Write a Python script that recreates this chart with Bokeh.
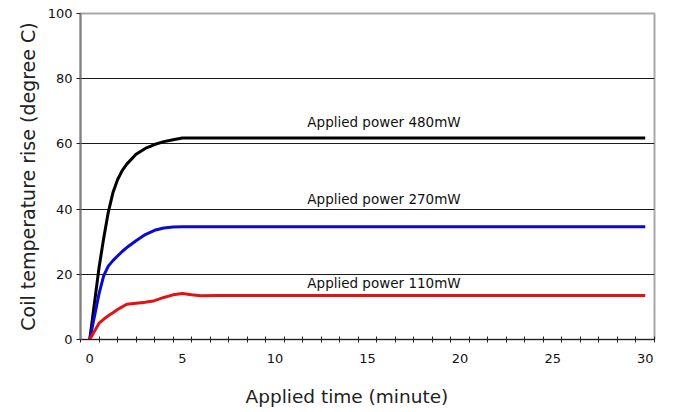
from bokeh.plotting import figure
from bokeh.models import FixedTicker, Range1d
from bokeh.embed import file_html
from bokeh.resources import INLINE
from bokeh.core.properties import value

# ---- data ----
time_min = [0, 0.5, 0.75, 1, 1.25, 1.5, 1.75, 2, 2.5, 3, 3.5, 4, 4.5, 5, 5.5, 6,
            7, 8, 9, 10, 11, 12, 13, 14, 15, 16, 17, 18, 19, 20,
            21, 22, 23, 24, 25, 26, 27, 28, 29, 30]
rise_480mw = [0, 22, 31, 39, 45, 49, 51.8, 53.8, 56.8, 58.6, 59.8, 60.7, 61.3, 61.8, 61.8, 61.8,
              61.8, 61.8, 61.8, 61.8, 61.8, 61.8, 61.8, 61.8, 61.8, 61.8, 61.8, 61.8, 61.8, 61.8,
              61.8, 61.8, 61.8, 61.8, 61.8, 61.8, 61.8, 61.8, 61.8, 61.8]
rise_270mw = [0, 14, 19.5, 22.5, 24.2, 25.6, 27.0, 28.2, 30.3, 32.2, 33.5, 34.2, 34.5, 34.6, 34.6, 34.6,
              34.6, 34.6, 34.6, 34.6, 34.6, 34.6, 34.6, 34.6, 34.6, 34.6, 34.6, 34.6, 34.6, 34.6,
              34.6, 34.6, 34.6, 34.6, 34.6, 34.6, 34.6, 34.6, 34.6, 34.6]
rise_110mw = [0, 5.0, 6.2, 7.3, 8.2, 9.2, 10.0, 10.8, 11.1, 11.4, 11.9, 12.9, 13.7, 14.1, 13.7, 13.4,
              13.5, 13.5, 13.5, 13.5, 13.5, 13.5, 13.5, 13.5, 13.5, 13.5, 13.5, 13.5, 13.5, 13.5,
              13.5, 13.5, 13.5, 13.5, 13.5, 13.5, 13.5, 13.5, 13.5, 13.5]
series_labels = ["Applied power 480mW", "Applied power 270mW", "Applied power 110mW"]
label_x = [11.75, 11.75, 11.75]
label_y = [66.8, 43.0, 17.4]
x_tick_labels = [0, 5, 10, 15, 20, 25, 30]
x_minor = [i - 0.5 for i in range(32)]
y_ticks = [0, 20, 40, 60, 80, 100]
x_title = "Applied time (minute)"
y_title = "Coil temperature rise (degree C)"

FONT = "DejaVu Sans"

p = figure(width=665, height=410, output_backend="svg", toolbar_location=None,
           x_range=Range1d(-0.5, 30.5), y_range=Range1d(0, 100),
           min_border_left=80, min_border_right=11, min_border_top=13, min_border_bottom=71)
p.background_fill_color = "white"
p.border_fill_color = "white"
p.outline_line_color = "#a8a8a8"
p.outline_line_width = 2

# x axis
p.xaxis.ticker = FixedTicker(ticks=x_tick_labels, minor_ticks=x_minor)
p.xaxis.major_tick_in = 0
p.xaxis.major_tick_out = 0
p.xaxis.minor_tick_in = 3
p.xaxis.minor_tick_out = 3
p.xaxis.minor_tick_line_color = "#222222"
p.xaxis.axis_line_color = "#222222"
p.xaxis.major_label_standoff = 11
p.xaxis.major_label_text_font = FONT
p.xaxis.major_label_text_font_size = "13px"
p.xaxis.major_label_text_color = "#111111"
# trailing no-break spaces shift the centred title a little left, as in the reference
p.xaxis.axis_label = x_title + "\u00a0" * 7
p.xaxis.axis_label_standoff = 20
p.xaxis.axis_label_text_font = FONT
p.xaxis.axis_label_text_font_size = "18.5px"
p.xaxis.axis_label_text_font_style = "normal"
p.xaxis.axis_label_text_color = "#222222"

# y axis
p.yaxis.ticker = FixedTicker(ticks=y_ticks, minor_ticks=[])
p.yaxis.major_tick_in = 0
p.yaxis.major_tick_out = 4
p.yaxis.major_tick_line_color = "#222222"
p.yaxis.axis_line_color = "#808080"
p.yaxis.axis_line_width = 2
p.yaxis.major_label_standoff = 4
p.yaxis.axis_label = y_title
p.yaxis.axis_label_standoff = 6
p.yaxis.axis_label_text_font = FONT
p.yaxis.axis_label_text_font_size = "19px"
p.yaxis.axis_label_text_font_style = "normal"
p.yaxis.axis_label_text_color = "#222222"
p.yaxis.major_label_text_font = FONT
p.yaxis.major_label_text_font_size = "13px"
p.yaxis.major_label_text_color = "#111111"

# grid
p.xgrid.grid_line_color = None
p.ygrid.ticker = FixedTicker(ticks=[20, 40, 60, 80, 100])
p.ygrid.grid_line_color = "#1a1a1a"
p.ygrid.grid_line_width = 1

# curves
p.line(time_min, rise_480mw, line_color="#000000", line_width=3, line_join="round")
p.line(time_min, rise_270mw, line_color="#0a0ad2", line_width=3, line_join="round")
p.line(time_min, rise_110mw, line_color="#e01414", line_width=3, line_join="round")

p.text(x=label_x, y=label_y, text=series_labels, text_font=value(FONT),
       text_font_size="13.5px", text_align="left", text_baseline="middle", text_color="#111111")

open("out.html", "w").write(file_html(p, INLINE))
